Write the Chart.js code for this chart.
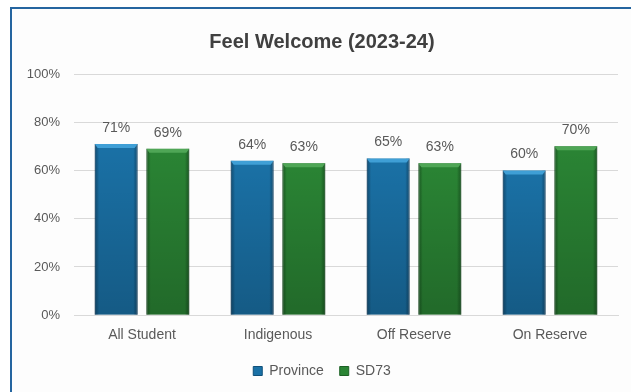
<!DOCTYPE html>
<html>
<head>
<meta charset="utf-8">
<script src="https://cdn.jsdelivr.net/npm/chart.js@4"></script>
<style>
  html, body { margin: 0; padding: 0; background: #ffffff; }
  #wrap { position: relative; width: 631px; height: 392px; overflow: hidden; }
  #frame { position: absolute; left: 10px; top: 7px; width: 700px; height: 500px;
           border-top: 2px solid #2565a0; border-left: 2px solid #2565a0; background: #fdfdfd; }
  #welcomeChart { position: absolute; left: 0; top: 0; }
</style>
</head>
<body>
<div id="wrap">
  <div id="frame"></div>
  <canvas id="welcomeChart" width="631" height="392"></canvas>
</div>
<script>
// Feel Welcome survey results
const groups = ["All Student", "Indigenous", "Off Reserve", "On Reserve"];
const province = [71, 64, 65, 60];
const sd73 = [69, 63, 63, 70];
const yTicks = [0, 20, 40, 60, 80, 100];

const textGrey = "#595959";
const fontFamily = "'Liberation Sans', Arial, sans-serif";

// bevel look: darker sides, darker toward the base, light strip on top
const bevelBars = {
    id: "bevelBars",
    afterDatasetsDraw(chart) {
        const ctx = chart.ctx;
        const shades = [
            { side: "rgba(8,45,75,0.45)", top: "#3f9fd6" },
            { side: "rgba(10,55,18,0.45)", top: "#4fa656" }
        ];
        chart.data.datasets.forEach((ds, i) => {
            const meta = chart.getDatasetMeta(i);
            meta.data.forEach(bar => {
                const w = bar.width;
                const left = bar.x - w / 2;
                const right = bar.x + w / 2;
                const top = bar.y;
                const bottom = bar.base;
                ctx.save();
                const v = ctx.createLinearGradient(0, top, 0, bottom);
                v.addColorStop(0, "rgba(0,0,0,0)");
                v.addColorStop(1, "rgba(0,0,0,0.2)");
                ctx.fillStyle = v;
                ctx.fillRect(left, top, w, bottom - top);
                const g = ctx.createLinearGradient(left, 0, right, 0);
                g.addColorStop(0, shades[i].side);
                g.addColorStop(0.1, "rgba(0,0,0,0)");
                g.addColorStop(0.9, "rgba(0,0,0,0)");
                g.addColorStop(1, shades[i].side);
                ctx.fillStyle = g;
                ctx.fillRect(left, top, w, bottom - top);
                ctx.fillStyle = shades[i].top;
                ctx.beginPath();
                ctx.moveTo(left, top);
                ctx.lineTo(right, top);
                ctx.lineTo(right - 3, top + 4);
                ctx.lineTo(left + 3, top + 4);
                ctx.closePath();
                ctx.fill();
                ctx.restore();
            });
        });
    }
};

// percentage labels above each bar
const valueLabels = {
    id: "valueLabels",
    afterDatasetsDraw(chart) {
        const ctx = chart.ctx;
        ctx.save();
        ctx.font = "14px " + fontFamily;
        ctx.fillStyle = textGrey;
        ctx.textAlign = "center";
        ctx.textBaseline = "bottom";
        chart.data.datasets.forEach((ds, i) => {
            chart.getDatasetMeta(i).data.forEach((bar, j) => {
                ctx.fillText(ds.data[j] + "%", bar.x, bar.y - 9);
            });
        });
        ctx.restore();
    }
};

new Chart(document.getElementById("welcomeChart"), {
    type: "bar",
    data: {
        labels: groups,
        datasets: [{
            label: "Province",
            data: province,
            backgroundColor: "#1a71a6",
            borderColor: "#105079",
            borderWidth: 1
        }, {
            label: "SD73",
            data: sd73,
            backgroundColor: "#2a8434",
            borderColor: "#1d6025",
            borderWidth: 1
        }]
    },
    options: {
        responsive: false,
        animation: false,
        devicePixelRatio: 1,
        categoryPercentage: 0.76,
        barPercentage: 0.83,
        layout: { padding: { left: 26, right: 13, top: 0, bottom: 4 } },
        plugins: {
            title: {
                display: true,
                text: "Feel Welcome (2023-24)",
                color: "#404040",
                font: { family: fontFamily, size: 20, weight: "bold" },
                padding: { top: 30, bottom: 20 }
            },
            legend: {
                position: "bottom",
                labels: {
                    color: textGrey,
                    font: { family: fontFamily, size: 14 },
                    boxWidth: 9,
                    boxHeight: 9,
                    padding: 16,
                    generateLabels(chart) {
                        return chart.data.datasets.map((ds, i) => ({
                            text: ds.label,
                            fillStyle: ds.backgroundColor,
                            strokeStyle: ds.borderColor,
                            fontColor: textGrey,
                            lineWidth: 1,
                            datasetIndex: i
                        }));
                    }
                }
            },
            tooltip: { enabled: false }
        },
        scales: {
            x: {
                grid: { display: false },
                border: { color: "#d9d9d9" },
                ticks: {
                    color: textGrey,
                    font: { family: fontFamily, size: 14 },
                    padding: 4
                }
            },
            y: {
                min: 0,
                max: 100,
                afterBuildTicks(scale) {
                    scale.ticks = yTicks.map(v => ({ value: v }));
                },
                afterFit(scale) {
                    scale.width = 48;
                },
                grid: { color: "#d9d9d9", drawTicks: false },
                border: { display: false },
                ticks: {
                    color: textGrey,
                    font: { family: fontFamily, size: 13 },
                    padding: 14,
                    callback: v => v + "%"
                }
            }
        }
    },
    plugins: [bevelBars, valueLabels]
});
</script>
</body>
</html>
